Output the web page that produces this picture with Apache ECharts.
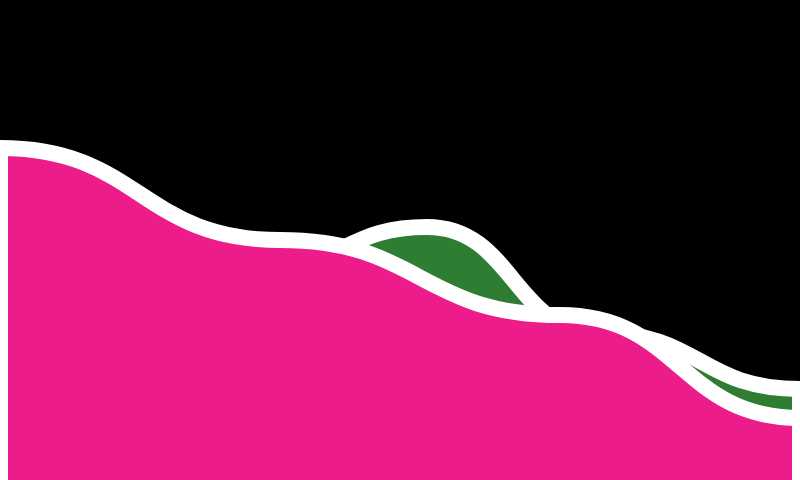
<!DOCTYPE html>
<html><head><meta charset="utf-8">
<style>html,body{margin:0;padding:0;background:#000}#c{width:800px;height:480px}</style>
<script src="https://cdn.jsdelivr.net/npm/echarts@6/dist/echarts.min.js"></script></head>
<body><div id="c"></div>
<script>
const pinkX = [-40,0,280,560,800,840];
const pinkValues = [332,332,240,165,62,62];
const greenX = [-40,0,267,427,600,800,840];
const greenValues = [250,250,215,253,147,91,91];
const PINK="#EC1C8B", GREEN="#2E7D32", STROKE="#FFFFFF";
function area(name,xs,values,color,z){
  const last=xs.length-2;
  return {name,type:"line",data:xs.map((x,i)=>[x,values[i]]),z,smooth:0.5,smoothMonotone:"x",symbol:"none",clip:false,
    lineStyle:{color:STROKE,width:16},areaStyle:{color,opacity:1},animation:false,
    markLine:{silent:true,symbol:"none",animation:false,label:{show:false},
      lineStyle:{color:STROKE,width:16,type:"solid"},
      data:[[{coord:[xs[1],values[1]]},{coord:[xs[1],0]}],[{coord:[xs[last],values[last]]},{coord:[xs[last],0]}]]}};
}
const chart=echarts.init(document.getElementById("c"),null,{renderer:"canvas"});
chart.setOption({
  backgroundColor:"#000000",animation:false,
  grid:{left:0,right:0,top:0,bottom:0},
  xAxis:{type:"value",min:0,max:800,show:false},
  yAxis:{type:"value",min:0,max:480,show:false},
  series:[area("green",greenX,greenValues,GREEN,2),area("pink",pinkX,pinkValues,PINK,3)]
});
</script></body></html>
